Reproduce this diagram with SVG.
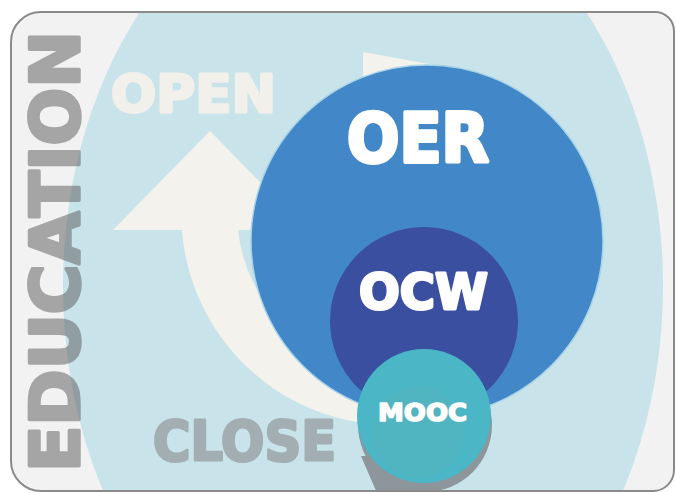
<svg xmlns="http://www.w3.org/2000/svg" width="676" height="493" viewBox="0 0 676 493">
  <style>
    .lbl { font-family: "DejaVu Sans", "Liberation Sans", sans-serif; font-weight: bold; stroke-linejoin: round; paint-order: stroke fill; }
  </style>
  <defs>
    <clipPath id="frameClip">
      <path d="M41,12 H655 A19,19 0 0 1 674,31 V470 A21,21 0 0 1 653,491 H41 A30,30 0 0 1 11,461 V42 A30,30 0 0 1 41,12 Z"/>
    </clipPath>
  </defs>
  <rect width="676" height="493" fill="#ffffff"/>
  <g id="frame">
    <path d="M41,12 H655 A19,19 0 0 1 674,31 V470 A21,21 0 0 1 653,491 H41 A30,30 0 0 1 11,461 V42 A30,30 0 0 1 41,12 Z" fill="#f2f2f2"/>
  </g>
  <g clip-path="url(#frameClip)">
    <g id="education-field">
      <ellipse cx="363" cy="286" rx="300" ry="410" fill="#c8e3ea"/>
    </g>
    <g id="connectors">
      <path d="M363,52 L440,66 L440,110 L363,110 Z" fill="#f4f2ec"/>
      <path d="M210,226 L210,230 A183,183 0 0 0 425,394" fill="none" stroke="#f4f2ec" stroke-width="56"/>
      <polygon points="210,131 113,230 307,230" fill="#f4f2ec"/>
      <circle cx="425" cy="425" r="67" fill="#8d979b"/>
      <path d="M361,456 L410,456 L410,500 L380,500 Z" fill="#8d979b"/>
    </g>
    <g id="oer">
      <circle cx="427" cy="241" r="176" fill="#4287c8" stroke="#a6d3e8" stroke-width="1.5"/>
      <text class="lbl" x="347" y="162" font-size="68" textLength="142" lengthAdjust="spacingAndGlyphs" fill="#ffffff" stroke="#ffffff" stroke-width="4">OER</text>
    </g>
    <g id="ocw">
      <circle cx="424" cy="321" r="94" fill="#3a4fa0"/>
      <text class="lbl" x="359" y="309" font-size="50" textLength="129" lengthAdjust="spacingAndGlyphs" fill="#ffffff" stroke="#ffffff" stroke-width="3">OCW</text>
    </g>
    <g id="mooc">
      <circle cx="424" cy="416" r="67" fill="#4bb6c6"/>
      <circle cx="418" cy="432" r="46" fill="#55b5bb" opacity="0.55"/>
      <text class="lbl" x="378" y="421" font-size="25" textLength="89" lengthAdjust="spacingAndGlyphs" fill="#ffffff" stroke="#ffffff" stroke-width="1.6">MOOC</text>
    </g>
    <g id="labels">
      <text class="lbl" x="111" y="112" font-size="51" textLength="165" lengthAdjust="spacingAndGlyphs" fill="#f1f0eb" stroke="#f1f0eb" stroke-width="3">OPEN</text>
      <text class="lbl" x="153" y="460" font-size="55" textLength="183" lengthAdjust="spacingAndGlyphs" fill="#a3aeb2" stroke="#a3aeb2" stroke-width="3">CLOSE</text>
      <g opacity="0.52">
        <text class="lbl" transform="translate(79,472) rotate(-90)" font-size="67" textLength="441" lengthAdjust="spacingAndGlyphs" fill="#5e5e5e" stroke="#5e5e5e" stroke-width="3.5">EDUCATION</text>
      </g>
    </g>
  </g>
  <path d="M41,12 H655 A19,19 0 0 1 674,31 V470 A21,21 0 0 1 653,491 H41 A30,30 0 0 1 11,461 V42 A30,30 0 0 1 41,12 Z" fill="none" stroke="#8a8a8a" stroke-width="2"/>
</svg>
